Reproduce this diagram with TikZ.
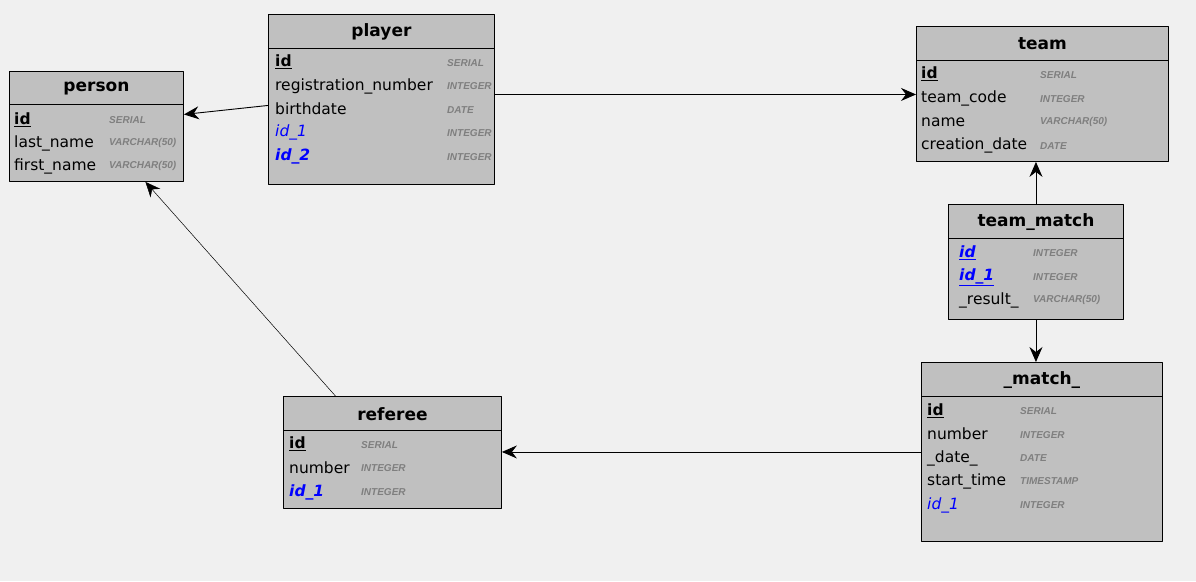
\documentclass[tikz,border=0pt]{standalone}
\usepackage{fontspec}
\setmainfont{DejaVu Sans}
\newfontfamily\typefont{Liberation Sans}
\usetikzlibrary{arrows.meta}
\definecolor{bggray}{HTML}{F0F0F0}
\definecolor{tblgray}{HTML}{C0C0C0}
\definecolor{typegray}{HTML}{7F7F7F}
\definecolor{fkblue}{HTML}{0000FF}
\tikzset{
  tbl/.style={draw=black, fill=tblgray, anchor=north west, inner sep=0pt, line width=0.9pt},
  title/.style={inner sep=0pt, font=\bfseries\fontsize{17}{17}\selectfont},
  field/.style={anchor=west, inner sep=0pt, font=\fontsize{15.5}{16}\selectfont},
  type/.style={anchor=west, inner sep=0pt, text=typegray, font=\typefont\bfseries\itshape\fontsize{10}{10}\selectfont},
  rel/.style={-{Stealth[length=15pt,width=13pt,inset=5pt]}, line width=0.9pt},
}
\begin{document}
\begin{tikzpicture}[x=1pt,y=-1pt,line join=round]
\useasboundingbox[fill=bggray] (0,0) rectangle (1196,581);
% tables
\node[tbl, minimum width=174pt, minimum height=110pt] (person) at (9,71) {};
\node[tbl, minimum width=226pt, minimum height=170pt] (player) at (268,14) {};
\node[tbl, minimum width=252pt, minimum height=135pt] (team) at (916,26) {};
\node[tbl, minimum width=175pt, minimum height=115pt] (teammatch) at (948,204) {};
\node[tbl, minimum width=241pt, minimum height=179pt] (match) at (921,362) {};
\node[tbl, minimum width=218pt, minimum height=112pt] (referee) at (283,396) {};
\draw ([yshift=-33]person.north west) -- ([yshift=-33]person.north east);
\draw ([yshift=-34]player.north west) -- ([yshift=-34]player.north east);
\draw ([yshift=-34]team.north west) -- ([yshift=-34]team.north east);
\draw ([yshift=-34]teammatch.north west) -- ([yshift=-34]teammatch.north east);
\draw ([yshift=-34]match.north west) -- ([yshift=-34]match.north east);
\draw ([yshift=-34]referee.north west) -- ([yshift=-34]referee.north east);
% person
\node[title] (person-t) at ([yshift=-18]person.north) {person};
\node[field] (person-f1) at (14,120) {\textbf{\underline{id}}};
\node[type] (person-y1) at (109,120) {SERIAL};
\node[field] (person-f2) at (14,143) {last\_name};
\node[type] (person-y2) at (109,143) {VARCHAR(50)};
\node[field] (person-f3) at (14,166) {first\_name};
\node[type] (person-y3) at (109,166) {VARCHAR(50)};
% player
\node[title] (player-t) at ([yshift=-18]player.north) {player};
\node[field] (player-f1) at (275,62) {\textbf{\underline{id}}};
\node[type] (player-y1) at (447,63) {SERIAL};
\node[field] (player-f2) at (275,86) {registration\_number};
\node[type] (player-y2) at (447,86) {INTEGER};
\node[field] (player-f3) at (275,109) {birthdate};
\node[type] (player-y3) at (447,110) {DATE};
\node[field, text=fkblue] (player-f4) at (275,132) {\itshape id\_1};
\node[type] (player-y4) at (447,133) {INTEGER};
\node[field, text=fkblue] (player-f5) at (275,156) {\bfseries\itshape id\_2};
\node[type] (player-y5) at (447,157) {INTEGER};
% team
\node[title] (team-t) at ([yshift=-18]team.north) {team};
\node[field] (team-f1) at (921,74) {\textbf{\underline{id}}};
\node[type] (team-y1) at (1040,75) {SERIAL};
\node[field] (team-f2) at (921,98) {team\_code};
\node[type] (team-y2) at (1040,99) {INTEGER};
\node[field] (team-f3) at (921,122) {name};
\node[type] (team-y3) at (1040,122) {VARCHAR(50)};
\node[field] (team-f4) at (921,145) {creation\_date};
\node[type] (team-y4) at (1040,146) {DATE};
% team_match
\node[title] (teammatch-t) at ([yshift=-18]teammatch.north) {team\_match};
\node[field, text=fkblue] (teammatch-f1) at (959,253) {\bfseries\itshape\underline{id}};
\node[type] (teammatch-y1) at (1033,253) {INTEGER};
\node[field, text=fkblue] (teammatch-f2) at (959,277) {\bfseries\itshape\underline{id\_1}};
\node[type] (teammatch-y2) at (1033,277) {INTEGER};
\node[field] (teammatch-f3) at (959,300) {\_result\_};
\node[type] (teammatch-y3) at (1033,300) {VARCHAR(50)};
% _match_
\node[title] (match-t) at ([yshift=-18]match.north) {\_match\_};
\node[field] (match-f1) at (927,411) {\textbf{\underline{id}}};
\node[type] (match-y1) at (1020,411) {SERIAL};
\node[field] (match-f2) at (927,434) {number};
\node[type] (match-y2) at (1020,435) {INTEGER};
\node[field] (match-f3) at (927,458) {\_date\_};
\node[type] (match-y3) at (1020,458) {DATE};
\node[field] (match-f4) at (927,481) {start\_time};
\node[type] (match-y4) at (1020,481) {TIMESTAMP};
\node[field, text=fkblue] (match-f5) at (927,505) {\itshape id\_1};
\node[type] (match-y5) at (1020,505) {INTEGER};
% referee
\node[title] (referee-t) at ([yshift=-18]referee.north) {referee};
\node[field] (referee-f1) at (289,444) {\textbf{\underline{id}}};
\node[type] (referee-y1) at (361,445) {SERIAL};
\node[field] (referee-f2) at (289,468) {number};
\node[type] (referee-y2) at (361,468) {INTEGER};
\node[field, text=fkblue] (referee-f3) at (289,492) {\bfseries\itshape id\_1};
\node[type] (referee-y3) at (361,492) {INTEGER};
% relations
\draw[rel] ([yshift=-6]player.west) -- ([yshift=12]person.east);
\draw[rel] ([yshift=5]player.east) -- ([yshift=5]player.east -| team.west);
\draw[rel] (teammatch.north) -- (teammatch.north |- team.south);
\draw[rel] (teammatch.south) -- (teammatch.south |- match.north);
\draw[rel] (match.west) -- (match.west -| referee.east);
\draw[rel, line width=0.5pt] ([xshift=-57]referee.north) -- ([xshift=49]person.south);
\end{tikzpicture}
\end{document}
